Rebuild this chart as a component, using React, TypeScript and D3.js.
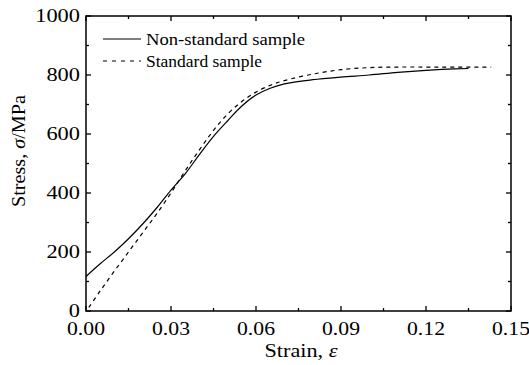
import React, { useEffect, useRef } from "react";
import * as d3 from "d3";

// chart data
const strainNonStd = [0, 0.005, 0.01, 0.015, 0.02, 0.025, 0.03, 0.035, 0.04, 0.045, 0.05, 0.055, 0.06, 0.065, 0.07, 0.08, 0.09, 0.1, 0.11, 0.12, 0.13, 0.135];
const stressNonStd = [117, 160, 200, 245, 295, 350, 410, 465, 530, 592, 645, 695, 732, 755, 770, 784, 793, 800, 809, 816, 821, 822];
const strainStd = [0.001, 0.005, 0.01, 0.015, 0.02, 0.025, 0.03, 0.035, 0.04, 0.045, 0.05, 0.055, 0.06, 0.065, 0.07, 0.08, 0.09, 0.1, 0.11, 0.12, 0.13, 0.143];
const stressStd = [12, 68, 135, 200, 265, 330, 400, 475, 546, 612, 668, 710, 742, 765, 781, 803, 818, 825, 827, 827, 827, 827];
const xTicks = [0, 0.03, 0.06, 0.09, 0.12, 0.15];
const yTicks = [0, 200, 400, 600, 800, 1000];
const seriesNames = ["Non-standard sample", "Standard sample"];

const width = 529;
const height = 365;
const margin = { top: 16, right: 18, bottom: 54, left: 86 };
const font = "'Liberation Serif', 'Times New Roman', serif";

const App = () => {
  const ref = useRef<SVGSVGElement>(null);

  useEffect(() => {
    const svg = d3.select(ref.current);
    svg.selectAll("*").remove();

    const x = d3.scaleLinear().domain([0, 0.15]).range([margin.left, width - margin.right]);
    const y = d3.scaleLinear().domain([0, 1000]).range([height - margin.bottom, margin.top]);
    const [x0, x1] = x.range();
    const [y0, y1] = y.range();

    const xMinor = d3.range(0, 0.1501, 0.015);
    const yMinor = d3.range(0, 1001, 100);

    // inward ticks on all four sides
    const g = svg.append("g").attr("stroke", "#000").attr("stroke-width", 1.3);
    xMinor.forEach((v, i) => {
      const len = i % 2 === 0 ? 5 : 3;
      g.append("line").attr("x1", x(v)).attr("x2", x(v)).attr("y1", y0).attr("y2", y0 - len);
      g.append("line").attr("x1", x(v)).attr("x2", x(v)).attr("y1", y1).attr("y2", y1 + len);
    });
    yMinor.forEach((v, i) => {
      const len = i % 2 === 0 ? 5 : 3;
      g.append("line").attr("x1", x0).attr("x2", x0 + len).attr("y1", y(v)).attr("y2", y(v));
      g.append("line").attr("x1", x1).attr("x2", x1 - len).attr("y1", y(v)).attr("y2", y(v));
    });

    svg.append("rect")
      .attr("x", x0).attr("y", y1)
      .attr("width", x1 - x0).attr("height", y0 - y1)
      .attr("fill", "none").attr("stroke", "#000").attr("stroke-width", 1.5);

    // tick labels
    svg.append("g").selectAll("text").data(xTicks).join("text")
      .attr("x", (d) => x(d)).attr("y", y0 + 24)
      .attr("text-anchor", "middle")
      .attr("font-family", font).attr("font-size", 19)
      .attr("textLength", 38).attr("lengthAdjust", "spacingAndGlyphs")
      .text((d) => d3.format(".2f")(d));

    svg.append("g").selectAll("text").data(yTicks).join("text")
      .attr("x", x0 - 6).attr("y", (d) => y(d)).attr("dy", "0.3em")
      .attr("text-anchor", "end")
      .attr("font-family", font).attr("font-size", 19)
      .attr("textLength", (d) => String(d).length * 11.2)
      .attr("lengthAdjust", "spacingAndGlyphs")
      .text((d) => d);

    // axis titles
    const xt = svg.append("text")
      .attr("x", 301).attr("y", 357)
      .attr("text-anchor", "middle")
      .attr("font-family", font).attr("font-size", 19)
      .attr("textLength", 73).attr("lengthAdjust", "spacingAndGlyphs");
    xt.append("tspan").text("Strain, ");
    xt.append("tspan").attr("font-style", "italic").text("ε");

    const yt = svg.append("text")
      .attr("transform", `translate(25,151) rotate(-90)`)
      .attr("text-anchor", "middle")
      .attr("font-family", font).attr("font-size", 19)
      .attr("textLength", 112).attr("lengthAdjust", "spacingAndGlyphs");
    yt.append("tspan").text("Stress, ");
    yt.append("tspan").attr("font-style", "italic").text("σ");
    yt.append("tspan").text("/MPa");

    // curves
    const line = d3.line<[number, number]>()
      .x((d) => x(d[0])).y((d) => y(d[1]))
      .curve(d3.curveCatmullRom);

    const nonStd = strainNonStd.map((s, i) => [s, stressNonStd[i]] as [number, number]);
    const std = strainStd.map((s, i) => [s, stressStd[i]] as [number, number]);

    svg.append("path").attr("d", line(nonStd))
      .attr("fill", "none").attr("stroke", "#000").attr("stroke-width", 1.2);
    svg.append("path").attr("d", line(std))
      .attr("fill", "none").attr("stroke", "#000").attr("stroke-width", 1.2)
      .attr("stroke-dasharray", "4,4");

    // legend
    const legendWidths = [159, 116];
    const leg = svg.append("g");
    seriesNames.forEach((name, i) => {
      const ly = 39 + i * 22;
      leg.append("line")
        .attr("x1", 103).attr("x2", 141).attr("y1", ly).attr("y2", ly)
        .attr("stroke", "#000").attr("stroke-width", 1.2)
        .attr("stroke-dasharray", i === 0 ? null : "4,5");
      leg.append("text")
        .attr("x", 146).attr("y", ly).attr("dy", "0.35em")
        .attr("font-family", font).attr("font-size", 17)
        .attr("textLength", legendWidths[i]).attr("lengthAdjust", "spacingAndGlyphs")
        .text(name);
    });
  }, []);

  return (
    <svg ref={ref} width={width} height={height} style={{ position: "absolute", left: 0, top: 0, background: "#fff" }} />
  );
};

export default App;
